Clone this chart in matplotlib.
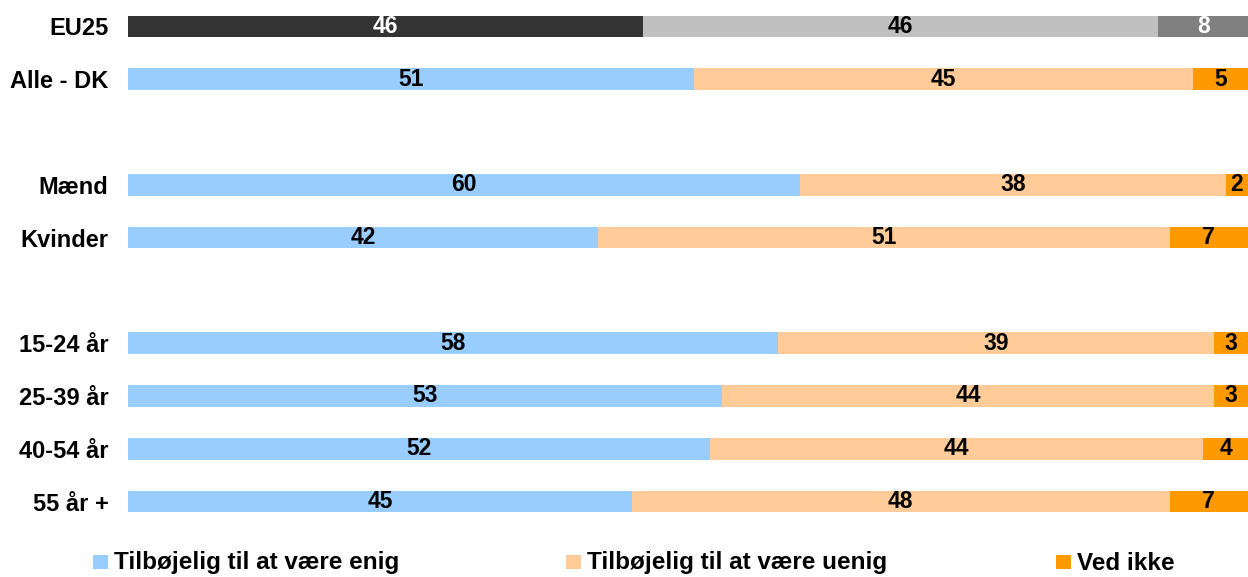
import matplotlib
matplotlib.use("Agg")
import matplotlib.pyplot as plt
from matplotlib.patches import Rectangle

categories = ["EU25", "Alle - DK", "Mænd", "Kvinder", "15-24 år", "25-39 år", "40-54 år", "55 år +"]
positions = [0, 1, 3, 4, 6, 7, 8, 9]
enig = [46, 51, 60, 42, 58, 53, 52, 45]
uenig = [46, 45, 38, 51, 39, 44, 44, 48]
ved_ikke = [8, 5, 2, 7, 3, 3, 4, 7]
legend_labels = ["Tilbøjelig til at være enig", "Tilbøjelig til at være uenig", "Ved ikke"]

plt.rcParams['font.family'] = ['Liberation Sans', 'DejaVu Sans']
plt.rcParams['font.weight'] = 'bold'

fig = plt.figure(figsize=(12.48, 5.77), dpi=100)
ax = fig.add_axes([128/1248, 1 - 528/577, 1 - 128/1248, 528/577])

colors_dk = ["#99CCFF", "#FFCC99", "#FF9900"]
colors_eu = ["#333333", "#C0C0C0", "#808080"]
text_dk = ["black", "black", "black"]
text_eu = ["white", "black", "white"]

h = 0.41
for i, (p, a, b, c) in enumerate(zip(positions, enig, uenig, ved_ikke)):
    tot = a + b + c
    vals = [a, b, c]
    cols = colors_eu if i == 0 else colors_dk
    tcols = text_eu if i == 0 else text_dk
    left = 0
    for v, col, tc in zip(vals, cols, tcols):
        w = v / tot * 100
        ax.barh(p, w, left=left, height=h, color=col, edgecolor='none')
        ax.text(left + w / 2, p, str(v), ha='center', va='center',
                fontsize=16.5, fontweight='bold', color=tc)
        left += w

ax.set_xlim(0, 100)
ax.set_ylim(9.5, -0.5)
ax.set_yticks(positions)
ax.set_yticklabels(categories, fontsize=17, fontweight='bold')
ax.tick_params(axis='y', length=0, pad=14)
ax.set_xticks([])
for s in ax.spines.values():
    s.set_visible(False)

xs = [93, 566, 1056]
for x, c, lab in zip(xs, colors_dk, legend_labels):
    fig.patches.append(Rectangle((x/1248, 1 - 569/577), 15/1248, 14/577,
                                 transform=fig.transFigure, facecolor=c, edgecolor='none'))
    fig.text((x + 21)/1248, 1 - 563/577, lab, fontsize=17.5, fontweight='bold', va='center', ha='left')

fig.savefig("out.png", dpi=100)
